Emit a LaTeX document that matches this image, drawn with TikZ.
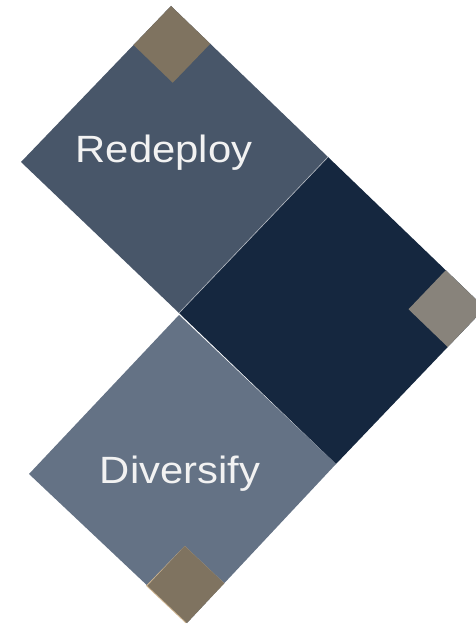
\documentclass[tikz,border=0pt]{standalone}
\usepackage{fontspec}
\setmainfont{Liberation Sans}
\usetikzlibrary{calc}
\definecolor{slateA}{RGB}{72,86,105}
\definecolor{navyB}{RGB}{21,39,63}
\definecolor{slateC}{RGB}{100,114,133}
\definecolor{tanD}{RGB}{127,115,96}
\definecolor{greyE}{RGB}{136,131,123}
\definecolor{tanfringe}{RGB}{205,180,145}
\tikzset{
    tile/.style={draw=none},
    label/.style={
        text=white!95!black,
        font=\fontsize{38}{38}\selectfont,
        xscale=1.1,
        anchor=base
    }
}

\begin{document}
\begin{tikzpicture}[x=1pt,y=-1pt]
    \useasboundingbox (0,0) rectangle (475,628);

    % upper tile
    \coordinate (t1) at (171,6);
    \coordinate (r1) at (328,157);
    \coordinate (b1) at (179,313);
    \coordinate (l1) at (21,162);
    % middle tile
    \coordinate (t2) at (328,157);
    \coordinate (r2) at (485,308);
    \coordinate (b2) at (336,464);
    \coordinate (l2) at (179,313);
    % lower tile
    \coordinate (t3) at (179,315);
    \coordinate (r3) at (336,464);
    \coordinate (b3) at (187,623);
    \coordinate (l3) at (29,474);

    \fill[slateA] (t1) -- (r1) -- (b1) -- (l1) -- cycle;
    \fill[navyB] (t2) -- (r2) -- (b2) -- (l2) -- cycle;
    \fill[slateC] (t3) -- (r3) -- (b3) -- (l3) -- cycle;
    \draw[line width=0.6pt, white!60!slateA] (r1) -- (b1);

    % small corner squares
    \coordinate (s1a) at ($(t1)!0.25!(l1)$);
    \coordinate (s1b) at ($(t1)!0.25!(r1)$);
    \fill[tanD] (t1) -- (s1b) -- ($(s1a)+(s1b)-(t1)$) -- (s1a) -- cycle;

    \coordinate (s2a) at ($(r2)!0.25!(t2)$);
    \coordinate (s2b) at ($(r2)!0.25!(b2)$);
    \fill[greyE] (r2) -- (s2a) -- ($(s2a)+(s2b)-(r2)$) -- (s2b) -- cycle;

    \coordinate (s3a) at ($(b3)!0.25!(l3)$);
    \coordinate (s3b) at ($(b3)!0.25!(r3)$);
    \fill[tanfringe] ([xshift=-1.5pt]b3) -- ([xshift=-1.5pt]s3a) -- ($(s3a)+(s3b)-(b3)$) -- (s3b) -- cycle;
    \fill[tanD] (b3) -- (s3a) -- ($(s3a)+(s3b)-(b3)$) -- (s3b) -- cycle;

    \node[label] (redeploy) at (164,163) {Redeploy};
    \node[label] (diversify) at (180,483) {Diversify};
\end{tikzpicture}
\end{document}
